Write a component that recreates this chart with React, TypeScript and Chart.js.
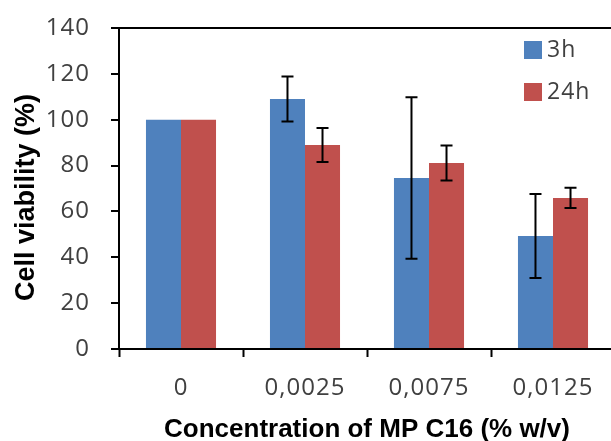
import React, { useEffect, useRef } from "react";
import { Chart, registerables } from "chart.js";

Chart.register(...registerables);

const categories = ["0", "0,0025", "0,0075", "0,0125"];
const seriesLabels = ["3h", "24h"];
const values3h = [100, 109, 74.6, 49.3];
const errors3h = [0, 9.8, 35.2, 18.3];
const values24h = [100, 89, 81.1, 65.9];
const errors24h = [0, 7.4, 7.6, 4.4];
const yTicks = [0, 20, 40, 60, 80, 100, 120, 140];
const colors = ["#4F81BD", "#C0504D"];
const xTitle = "Concentration of MP C16 (% w/v)";
const yTitle = "Cell viability (%)";

const spacingPlugin = {
  id: "spacing",
  beforeUpdate(chart: any) {
    chart.ctx.letterSpacing = "1px";
  },
  beforeDraw(chart: any) {
    chart.ctx.letterSpacing = "1px";
  },
};

const errorBarPlugin = {
  id: "errorBars",
  afterDatasetsDraw(chart: any) {
    const ctx = chart.ctx;
    const yScale = chart.scales.y;
    chart.data.datasets.forEach((ds: any, di: number) => {
      const meta = chart.getDatasetMeta(di);
      const errs: number[] = ds.errors || [];
      meta.data.forEach((bar: any, i: number) => {
        const e = errs[i];
        if (!e) return;
        const v = ds.data[i];
        const yTop = yScale.getPixelForValue(v + e);
        const yBot = yScale.getPixelForValue(v - e);
        const x = bar.x;
        const cap = 6;
        ctx.save();
        ctx.strokeStyle = "#000";
        ctx.lineWidth = 2;
        ctx.beginPath();
        ctx.moveTo(x, yTop);
        ctx.lineTo(x, yBot);
        ctx.moveTo(x - cap, yTop);
        ctx.lineTo(x + cap, yTop);
        ctx.moveTo(x - cap, yBot);
        ctx.lineTo(x + cap, yBot);
        ctx.stroke();
        ctx.restore();
      });
    });
  },
};

const legendAndTitlesPlugin = {
  id: "customLegend",
  afterDraw(chart: any) {
    const ctx = chart.ctx;
    const area = chart.chartArea;
    const x0 = area.left + 405;
    const y0 = area.top + 13;
    ctx.save();
    ctx.letterSpacing = "1px";
    chart.data.datasets.forEach((ds: any, i: number) => {
      const y = y0 + i * 42;
      ctx.fillStyle = ds.backgroundColor;
      ctx.fillRect(x0, y, 18, 18);
      ctx.fillStyle = "#404040";
      ctx.font = "23px 'Open Sans'";
      ctx.textBaseline = "middle";
      ctx.textAlign = "left";
      ctx.fillText(ds.label, x0 + 23, y + 9);
    });
    ctx.restore();

    // axis titles
    ctx.save();
    ctx.letterSpacing = "0px";
    ctx.fillStyle = "#000";
    ctx.textAlign = "center";
    ctx.textBaseline = "middle";
    ctx.font = "bold 26px 'Liberation Sans'";
    ctx.fillText(xTitle, (area.left + area.right) / 2, chart.height - 11);
    ctx.translate(27, (area.top + area.bottom) / 2 + 9);
    ctx.rotate(-Math.PI / 2);
    ctx.font = "bold 27px 'Liberation Sans'";
    ctx.fillText(yTitle, 0, 0);
    ctx.restore();
  },
};

export default function App() {
  const ref = useRef<HTMLCanvasElement>(null);
  useEffect(() => {
    document.body.style.margin = "0";
    const canvas = ref.current!;
    const chart = new Chart(canvas, {
      type: "bar",
      data: {
        labels: categories,
        datasets: [
          {
            label: seriesLabels[0],
            data: values3h,
            errors: errors3h,
            backgroundColor: colors[0],
            categoryPercentage: 0.565,
            barPercentage: 1,
          } as any,
          {
            label: seriesLabels[1],
            data: values24h,
            errors: errors24h,
            backgroundColor: colors[1],
            categoryPercentage: 0.565,
            barPercentage: 1,
          } as any,
        ],
      },
      options: {
        animation: false,
        responsive: false,
        layout: { padding: { top: 28, right: 0, left: 0, bottom: 0 } },
        plugins: {
          legend: { display: false },
          tooltip: { enabled: false },
        },
        scales: {
          x: {
            grid: {
              offset: true,
              color: "rgba(0,0,0,0)",
              tickColor: "#000",
              tickLength: 8,
              tickWidth: 2,
            },
            border: { color: "#000", width: 2 },
            ticks: {
              color: "#404040",
              font: { family: "'Open Sans'", size: 24 },
              padding: 17,
            },
            afterFit(scale: any) {
              scale.height = 92;
              scale.paddingLeft = 0;
              scale.paddingRight = 0;
            },
          },
          y: {
            min: 0,
            max: 140,
            afterBuildTicks(scale: any) {
              scale.ticks = yTicks.map((v) => ({ value: v }));
            },
            grid: {
              color: (c: any) => (c.tick && c.tick.value === 140 ? "#000" : "rgba(0,0,0,0)"),
              lineWidth: 2,
              tickColor: "#000",
              tickLength: 8,
              tickWidth: 2,
            },
            border: { color: "#000", width: 2 },
            ticks: {
              color: "#404040",
              font: { family: "'Open Sans'", size: 24 },
              padding: 21,
            },
            afterFit(scale: any) {
              scale.width = 119;
              scale.paddingTop = 0;
              scale.paddingBottom = 0;
            },
          },
        },
      },
      plugins: [spacingPlugin, errorBarPlugin, legendAndTitlesPlugin],
    });
    return () => chart.destroy();
  }, []);
  return (
    <div style={{ width: 611, height: 441, overflow: "hidden", background: "#fff" }}>
      <canvas ref={ref} width={615} height={441} style={{ width: 615, height: 441, display: "block" }} />
    </div>
  );
}
